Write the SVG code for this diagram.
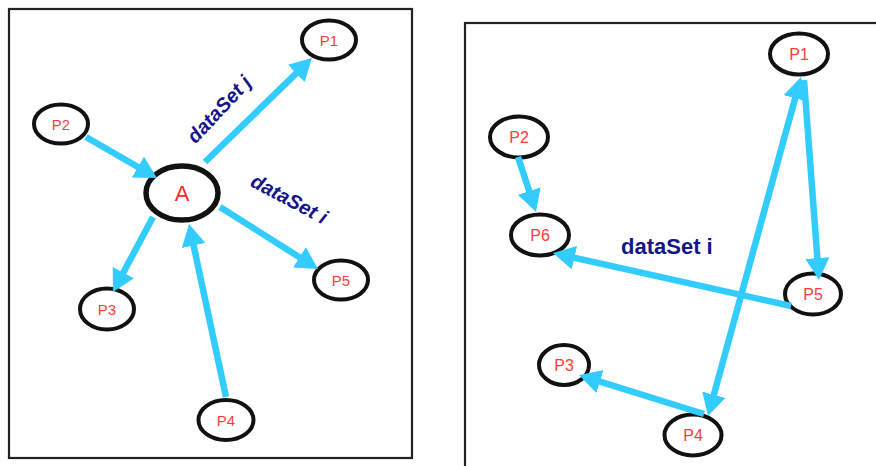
<svg xmlns="http://www.w3.org/2000/svg" width="876" height="466" viewBox="0 0 876 466">
  <style>
    .frame { fill: none; stroke: #222; stroke-width: 2.2; }
    .node { fill: #fff; stroke: #111; stroke-width: 4; }
    .hub { fill: #fff; stroke: #111; stroke-width: 5.5; }
    .plabel { font-family: "Liberation Sans", Arial, sans-serif; font-size: 15px; fill: #ff3b3b; text-anchor: middle; }
    .plabel-r { font-size: 16px; }
    .hublabel { font-family: "Liberation Sans", Arial, sans-serif; font-size: 22px; fill: #ff2a2a; text-anchor: middle; }
    .edge { fill: none; stroke: #33ccff; stroke-width: 6.5; marker-end: url(#head); }
    .both { marker-start: url(#head); }
    .elabel { font-family: "Liberation Sans", Arial, sans-serif; font-weight: bold; fill: #14148c; }
  </style>
  <defs>
    <marker id="head" markerUnits="userSpaceOnUse" viewBox="0 0 22 24" markerWidth="22" markerHeight="24" refX="10" refY="12" orient="auto-start-reverse">
      <path d="M0,0 L22,12 L0,24 z" fill="#33ccff"/>
    </marker>
  </defs>

  <!-- panel frames -->
  <rect class="frame" x="9" y="9" width="403" height="449"/>
  <rect class="frame" x="465" y="23" width="430" height="460"/>

  <!-- left panel: hub A and its neighbours -->
  <g id="left-P1"><ellipse class="node" cx="329" cy="40" rx="27" ry="19.5"/><text class="plabel" x="329" y="45.5">P1</text></g>
  <g id="left-P2"><ellipse class="node" cx="61" cy="124" rx="27" ry="19.5"/><text class="plabel" x="61" y="129.5">P2</text></g>
  <g id="left-A"><ellipse class="hub" cx="182" cy="193" rx="36" ry="27"/><text class="hublabel" x="182" y="201">A</text></g>
  <g id="left-P3"><ellipse class="node" cx="107" cy="309" rx="27" ry="20.5"/><text class="plabel" x="107" y="314.5">P3</text></g>
  <g id="left-P5"><ellipse class="node" cx="341" cy="280" rx="27" ry="19.5"/><text class="plabel" x="341" y="285.5">P5</text></g>
  <g id="left-P4"><ellipse class="node" cx="226" cy="420" rx="27.5" ry="20"/><text class="plabel" x="226" y="425.5">P4</text></g>

  <!-- right panel -->
  <g id="right-P1"><ellipse class="node" cx="799" cy="54" rx="29" ry="20.5"/><text class="plabel plabel-r" x="799" y="60">P1</text></g>
  <g id="right-P2"><ellipse class="node" cx="519" cy="137" rx="29" ry="20.5"/><text class="plabel plabel-r" x="519" y="143">P2</text></g>
  <g id="right-P6"><ellipse class="node" cx="540" cy="235" rx="29" ry="20.5"/><text class="plabel plabel-r" x="540" y="241">P6</text></g>
  <g id="right-P5"><ellipse class="node" cx="813" cy="294" rx="28" ry="20.5"/><text class="plabel plabel-r" x="813" y="300">P5</text></g>
  <g id="right-P3"><ellipse class="node" cx="564" cy="365" rx="25" ry="20"/><text class="plabel plabel-r" x="564" y="371">P3</text></g>
  <g id="right-P4"><ellipse class="node" cx="693" cy="435" rx="28.5" ry="20.5"/><text class="plabel plabel-r" x="693" y="441">P4</text></g>

  <!-- connectors -->
  <g id="connectors">
    <line class="edge" x1="205" y1="162" x2="303.4" y2="66.4"/>
    <line class="edge" x1="86" y1="137" x2="146.6" y2="172"/>
    <line class="edge" x1="153" y1="217" x2="118.6" y2="281.4"/>
    <line class="edge" x1="226" y1="397" x2="191.5" y2="235.7"/>
    <line class="edge" x1="220" y1="207" x2="307.9" y2="262.6"/>

    <line class="edge" x1="518" y1="157" x2="532.3" y2="200.6"/>
    <line class="edge both" x1="797.8" y1="88.6" x2="711.2" y2="404.4"/>
    <line class="edge" x1="804" y1="80" x2="818.1" y2="268"/>
    <line class="edge" x1="791" y1="306" x2="564.7" y2="255.6"/>
    <line class="edge" x1="704" y1="414" x2="590.4" y2="378.6"/>
  </g>

  <!-- edge labels -->
  <g id="edge-labels">
    <text class="elabel" font-style="italic" font-size="20" text-anchor="middle" transform="translate(224,114) rotate(-47)">dataSet j</text>
    <text class="elabel" font-style="italic" font-size="20" text-anchor="middle" transform="translate(286,205) rotate(28)">dataSet i</text>
    <text class="elabel" font-size="22" x="621" y="254">dataSet i</text>
  </g>
</svg>
